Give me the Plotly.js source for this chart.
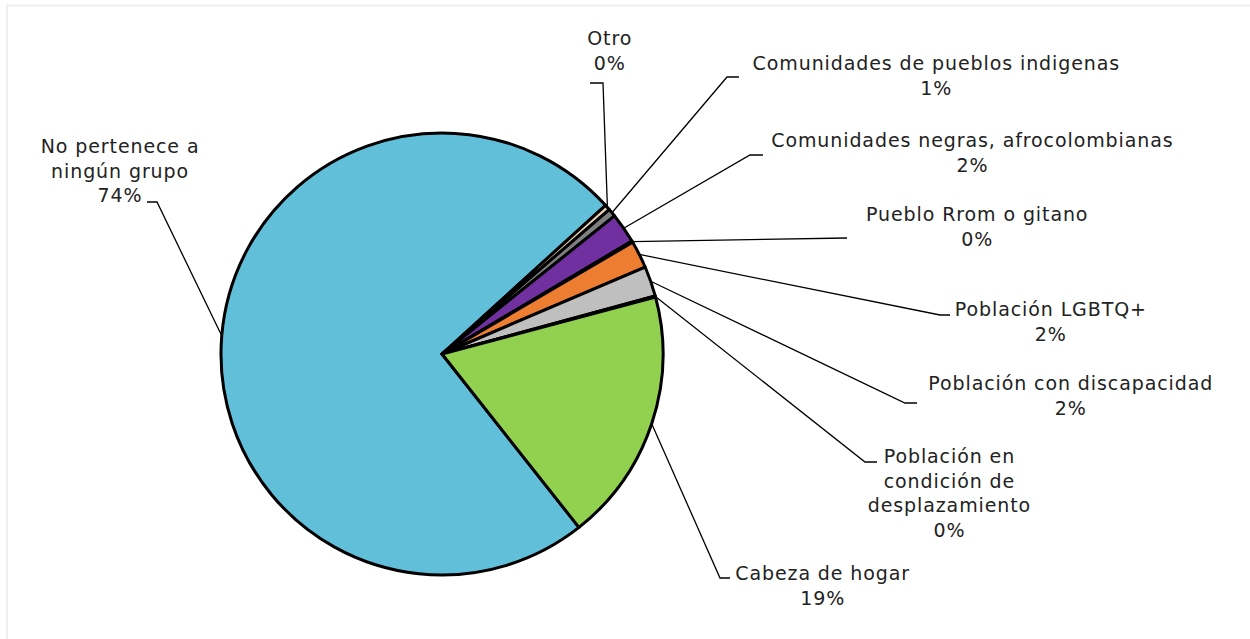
<!DOCTYPE html>
<html>
<head>
<meta charset="utf-8">
<script src="https://cdn.plot.ly/plotly-3.0.1.min.js"></script>
<style>
html,body{margin:0;padding:0;background:#fff;}
#chart{width:1250px;height:639px;}
#chart .annotation-text{letter-spacing:0.9px;}
</style>
</head>
<body>
<div id="chart"></div>
<script>
// ---- data ----
const categories = [
  "No pertenece a ningún grupo",
  "Otro",
  "Comunidades de pueblos indigenas",
  "Comunidades negras, afrocolombianas",
  "Pueblo Rrom o gitano",
  "Población LGBTQ+",
  "Población con discapacidad",
  "Población en condición de desplazamiento",
  "Cabeza de hogar"
];
const values = [73.9, 0.4, 0.6, 2.2, 0.1, 2.0, 2.2, 0.1, 18.5];
const labelText = [
  "No pertenece a<br>ningún grupo",
  "Otro",
  "Comunidades de pueblos indigenas",
  "Comunidades negras, afrocolombianas",
  "Pueblo Rrom o gitano",
  "Población LGBTQ+",
  "Población con discapacidad",
  "Población en<br>condición de<br>desplazamiento",
  "Cabeza de hogar"
];
const colors = ["#62BFDA","#E3CFB4","#7F7F7F","#7030A0","#4472C4","#ED7D31","#BFBFBF","#FFC000","#92D050"];

// ---- layout (pixel positions) ----
const W = 1250, H = 639;
const cx = 442, cy = 354, R = 221;
const rotation = 141.7;
// label block centres and leader-line tick points [outer, inner]
const labelPos = [
  {c:[120,171], t:[[147,202],[157,202]]},
  {c:[609,50],  t:[[590,83],[603,83]]},
  {c:[936,75],  t:[[739,77],[727,77]]},
  {c:[972,152], t:[[763,155],[750,155]]},
  {c:[977,226], t:[[847,238],[847,238]]},
  {c:[1051,321],t:[[950,315],[940,315]]},
  {c:[1071,396],t:[[917,403],[905,403]]},
  {c:[949,493], t:[[877,462],[865,462]]},
  {c:[822,585], t:[[730,578],[720,578]]}
];

const px = x => x / W;
const py = y => 1 - y / H;

const total = values.reduce((a,b)=>a+b,0);
const annotations = [];
const shapes = [];
let ang = rotation;
values.forEach((v,i)=>{
  const span = v/total*360;
  const mid = (ang + span/2) * Math.PI/180;
  ang += span;
  const ex = cx + R*Math.sin(mid), ey = cy - R*Math.cos(mid);
  const p = labelPos[i];
  const pct = Math.round(v/total*100) + "%";
  annotations.push({
    x: px(p.c[0]), y: py(p.c[1]), xref:"paper", yref:"paper",
    xanchor:"center", yanchor:"middle", align:"center", showarrow:false,
    text: labelText[i] + "<br>" + pct,
    font:{family:"DejaVu Sans, sans-serif", size:19, color:"#222"}
  });
  const [a,b] = p.t;
  shapes.push({
    type:"path", xref:"paper", yref:"paper",
    path:`M${px(a[0])},${py(a[1])} L${px(b[0])},${py(b[1])} L${px(ex)},${py(ey)}`,
    line:{color:"#000", width:1.3}
  });
});
// outer frame
shapes.push({type:"rect", xref:"paper", yref:"paper", x0:px(7), x1:px(1262), y0:py(5.5), y1:py(650),
  line:{color:"#EFEFEF", width:2}, layer:"below"});

const trace = {
  type:"pie",
  labels: categories,
  values: values,
  sort:false,
  direction:"clockwise",
  rotation: rotation,
  textinfo:"none",
  hoverinfo:"label+percent",
  marker:{colors: colors, line:{color:"#000", width:3}},
  domain:{x:[px(cx-R), px(cx+R)], y:[py(cy+R), py(cy-R)]},
  showlegend:false
};

Plotly.newPlot("chart", [trace], {
  width: W, height: H,
  margin:{l:0,r:0,t:0,b:0},
  paper_bgcolor:"#fff",
  showlegend:false,
  annotations: annotations,
  shapes: shapes
}, {displayModeBar:false, staticPlot:true});
</script>
</body>
</html>
